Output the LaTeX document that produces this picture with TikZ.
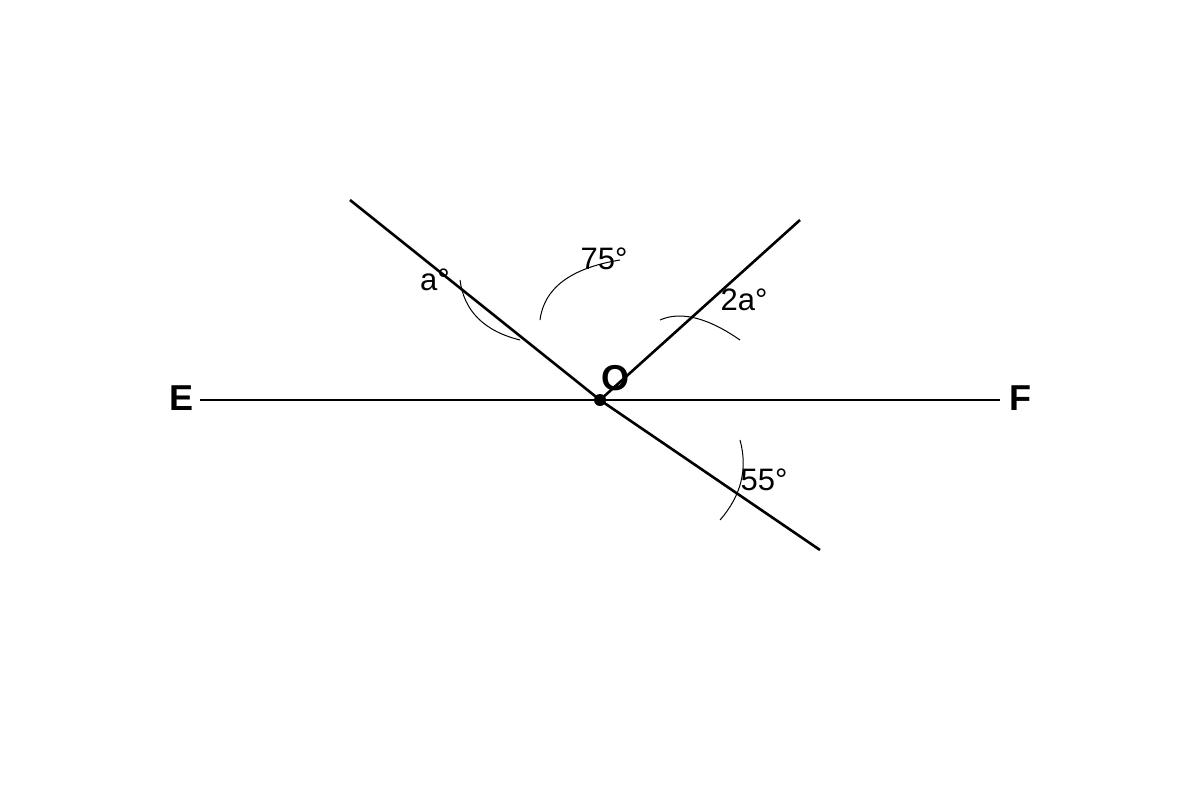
\documentclass[tikz,border=0pt]{standalone}
\usepackage{fontspec}
\setmainfont{Liberation Sans}
\usepackage{tikz}
\usetikzlibrary{calc}

\begin{document}
\begin{tikzpicture}[x=0.5pt,y=-0.5pt]
		\tikzstyle{every node}=[font=\fontsize{15.5}{17}\selectfont]
		\tikzstyle{ray}=[line width=1.3pt]
		\tikzstyle{anglearc}=[line width=0.5pt]
		\tikzstyle{pointlabel}=[font=\fontsize{18}{20}\selectfont\bfseries]
		\useasboundingbox (0,0) rectangle (1200,800);
		
		\coordinate (O) at (600,400);
		\coordinate (Eend) at (200,400);
		\coordinate (Fend) at (1000,400);
		\coordinate (P) at (350,200);
		\coordinate (Q) at (800,220);
		\coordinate (R) at (820,550);
		
		\draw [ray] (Eend) -- (Fend);
		\draw [ray] (P) -- (O);
		\draw [ray] (O) -- (Q);
		\draw [ray] (O) -- (R);
		
		% angle marks
		\draw [anglearc] (460,280) .. controls (464,311) and (484,331) .. (520,340);
		\draw [anglearc] (540,320) .. controls (544,288) and (571,268) .. (620,260);
		\draw [anglearc] (660,320) .. controls (680,311) and (707,317) .. (740,340);
		\draw [anglearc] (740,440) .. controls (748,469) and (741,496) .. (720,520);
		
		\fill [black] (O) circle (6);
		\node [pointlabel] (labO) at (615,378) {O};
		\node [pointlabel] (labE) at (182,398) {E};
		\node [pointlabel] (labF) at (1020,398) {F};
		\node (angA) at (435,280) {a°};
		\node (angB) at (604,259) {75°};
		\node (angC) at (744,300) {2a°};
		\node (angD) at (764,480) {55°};
		
\end{tikzpicture}
\end{document}
